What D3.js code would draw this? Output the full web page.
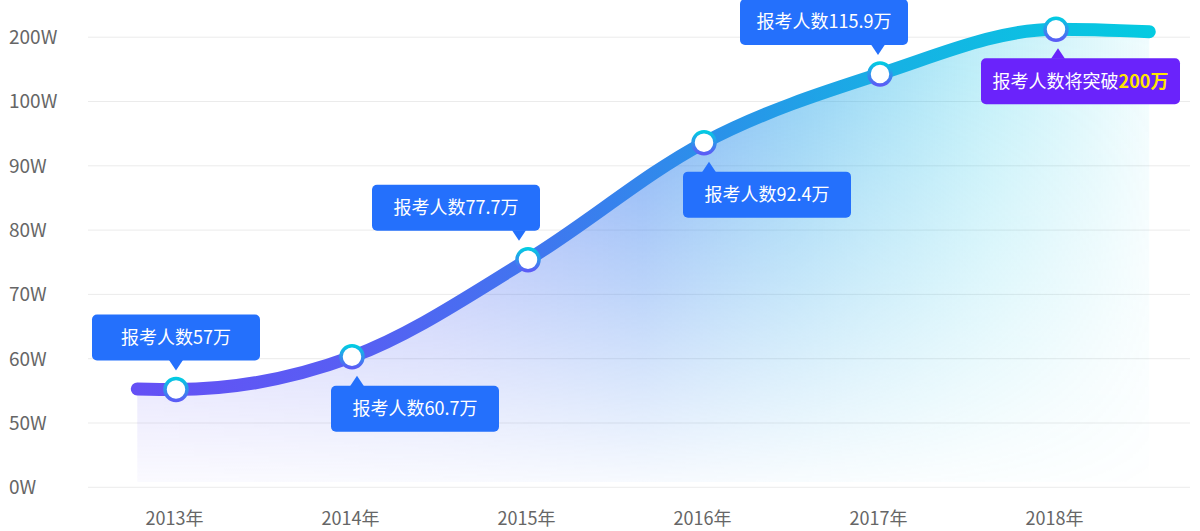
<!DOCTYPE html>
<html><head><meta charset="utf-8">
<script src="https://cdn.jsdelivr.net/npm/d3@7"></script>
<style>
body{margin:0;background:#fff;}
svg{display:block;font-family:"Noto Sans CJK SC","Noto Sans",sans-serif;}
</style>
</head><body>
<svg id="chart" width="1200" height="531"></svg>
<script>
// ---------- data ----------
const years = [2013, 2014, 2015, 2016, 2017, 2018];
const xTickLabels = ["2013年", "2014年", "2015年", "2016年", "2017年", "2018年"];
const yTickValues = [0, 50, 60, 70, 80, 90, 100, 200];
const yTickLabels = ["0W", "50W", "60W", "70W", "80W", "90W", "100W", "200W"];
// heights at which the points are drawn (on the axis scale)
const plotValues = [55.2, 60.3, 75.4, 93.6, 142.8, 212.3];
// values written in the callouts (万)
const reportedValues = [57, 60.7, 77.7, 92.4, 115.9, 200];
const calloutPrefix = ["报考人数", "报考人数", "报考人数", "报考人数", "报考人数", "报考人数将突破"];
// the curve runs a little past the first and last year
const curveStart = {year: 2012.78, value: 55.3};
const curveEnd = {year: 2018.53, value: 208.5};

// ---------- layout ----------
const W = 1200, H = 531;
const yBottom = 487.3, yStep = 64.3;
const gridX0 = 88, gridX1 = 1190;
const areaBottom = 482;

const svg = d3.select("#chart");
const defs = svg.append("defs");

const x = d3.scaleLinear().domain([2013, 2018]).range([176, 1056]);
const y = d3.scaleLinear().domain(yTickValues).range(yTickValues.map((d, i) => yBottom - i * yStep));

// gradients
const lineGrad = defs.append("linearGradient").attr("id", "lineGrad")
  .attr("gradientUnits", "userSpaceOnUse").attr("x1", 134).attr("x2", 1156).attr("y1", 0).attr("y2", 0);
[[0, "#6550f5"], [0.22, "#575ff3"], [0.4, "#3f77ef"], [0.58, "#2993e9"], [0.75, "#16b2e4"], [1, "#04cbe1"]]
  .forEach(([o, c]) => lineGrad.append("stop").attr("offset", o).attr("stop-color", c));

const areaGrad = defs.append("linearGradient").attr("id", "areaGrad")
  .attr("gradientUnits", "userSpaceOnUse").attr("x1", 134).attr("x2", 1152).attr("y1", 0).attr("y2", 0);
[[0, "#6a5cf6", 0.5], [0.3, "#5068f2", 0.58], [0.5, "#3b82ef", 0.72], [0.65, "#27a2ea", 0.55], [0.85, "#12c4e6", 0.26], [1, "#10cbe6", 0.06]]
  .forEach(([o, c, a]) => areaGrad.append("stop").attr("offset", o).attr("stop-color", c).attr("stop-opacity", a));

const fadeGrad = defs.append("linearGradient").attr("id", "fadeGrad")
  .attr("gradientUnits", "userSpaceOnUse").attr("x1", 0).attr("x2", 0).attr("y1", 30).attr("y2", areaBottom);
[[0, "#fff", 1], [0.55, "#fff", 0.5], [1, "#fff", 0.06]]
  .forEach(([o, c, a]) => fadeGrad.append("stop").attr("offset", o).attr("stop-color", c).attr("stop-opacity", a));
const mask = defs.append("mask").attr("id", "fadeMask").attr("maskUnits", "userSpaceOnUse")
  .attr("x", 0).attr("y", 0).attr("width", W).attr("height", H);
mask.append("rect").attr("width", W).attr("height", H).attr("fill", "url(#fadeGrad)");

const ringGrad = defs.append("linearGradient").attr("id", "ringGrad")
  .attr("x1", 0).attr("x2", 0).attr("y1", 0).attr("y2", 1);
[[0, "#03cbe2"], [1, "#5b5cf6"]]
  .forEach(([o, c]) => ringGrad.append("stop").attr("offset", o).attr("stop-color", c));

// grid lines
svg.append("g").selectAll("line").data(yTickValues).join("line")
  .attr("x1", gridX0).attr("x2", gridX1)
  .attr("y1", d => y(d)).attr("y2", d => y(d))
  .attr("stroke", "#ebebeb").attr("stroke-width", 1);

// y labels
svg.append("g").selectAll("text").data(yTickValues).join("text")
  .attr("x", 9).attr("y", d => y(d)).attr("dy", "0.36em")
  .attr("fill", "#666").attr("font-size", 19)
  .text((d, i) => yTickLabels[i]);

// x labels
const xAxis = d3.axisBottom(x).tickValues(years).tickSize(0).tickFormat((d, i) => xTickLabels[i]);
const gx = svg.append("g").attr("transform", `translate(-2,${yBottom + 22})`).call(xAxis);
gx.select(".domain").remove();
gx.selectAll("text").attr("fill", "#666").attr("font-size", 18)
  .attr("font-family", '"Noto Sans CJK SC","Noto Sans",sans-serif');

// series
const pts = [{year: curveStart.year, value: curveStart.value}]
  .concat(years.map((yr, i) => ({year: yr, value: plotValues[i]})))
  .concat([{year: curveEnd.year, value: curveEnd.value}]);

const area = d3.area().x(d => x(d.year)).y0(areaBottom).y1(d => y(d.value)).curve(d3.curveMonotoneX);
svg.append("path").datum(pts).attr("d", area)
  .attr("fill", "url(#areaGrad)").attr("mask", "url(#fadeMask)");

const line = d3.line().x(d => x(d.year)).y(d => y(d.value)).curve(d3.curveMonotoneX);
svg.append("path").datum(pts).attr("d", line)
  .attr("fill", "none").attr("stroke", "url(#lineGrad)")
  .attr("stroke-width", 13).attr("stroke-linecap", "round");

// markers
svg.append("g").selectAll("circle").data(years).join("circle")
  .attr("cx", d => x(d)).attr("cy", (d, i) => y(plotValues[i])).attr("r", 11)
  .attr("fill", "#fff").attr("stroke", "url(#ringGrad)").attr("stroke-width", 3.5);

// callouts
const calloutLayout = [
  {side: "up", dx: -84, w: 168, ptr: 0, fill: "#2470fc"},
  {side: "down", dx: -21, w: 168, ptr: 5, fill: "#2470fc"},
  {side: "up", dx: -156, w: 168, ptr: -9, fill: "#2470fc"},
  {side: "down", dx: -21, w: 168, ptr: 5, fill: "#2470fc"},
  {side: "up", dx: -140, w: 168, ptr: -2, fill: "#2470fc"},
  {side: "down", dx: -75, w: 199, ptr: 2, fill: "#6a23fb"}
];
const boxH = 46, gap = 19, ptrH = 10, ptrW = 7, rad = 5;

years.forEach((yr, i) => {
  const L = calloutLayout[i];
  const px = x(yr), py = y(plotValues[i]);
  const tipX = px + L.ptr;
  const left = px + L.dx;
  let tipY, top;
  if (L.side === "up") { tipY = py - gap; top = tipY - ptrH - boxH; }
  else { tipY = py + gap; top = tipY + ptrH; }
  const g = svg.append("g");
  g.append("rect").attr("x", left).attr("y", top).attr("width", L.w).attr("height", boxH)
    .attr("rx", rad).attr("fill", L.fill);
  const baseY = L.side === "up" ? top + boxH - 0.5 : top + 0.5;
  g.append("path")
    .attr("d", `M${tipX - ptrW},${baseY}L${tipX + ptrW},${baseY}L${tipX},${tipY}Z`)
    .attr("fill", L.fill);
  const t = g.append("text").attr("x", left + L.w / 2).attr("y", top + boxH / 2).attr("dy", "0.36em")
    .attr("text-anchor", "middle").attr("font-size", 18).attr("fill", "#fff");
  if (i === years.length - 1) {
    t.append("tspan").text(calloutPrefix[i]);
    t.append("tspan").attr("fill", "#ffe600").attr("font-weight", "bold").text(reportedValues[i] + "万");
  } else {
    t.text(calloutPrefix[i] + reportedValues[i] + "万");
  }
});
</script>
</body></html>
